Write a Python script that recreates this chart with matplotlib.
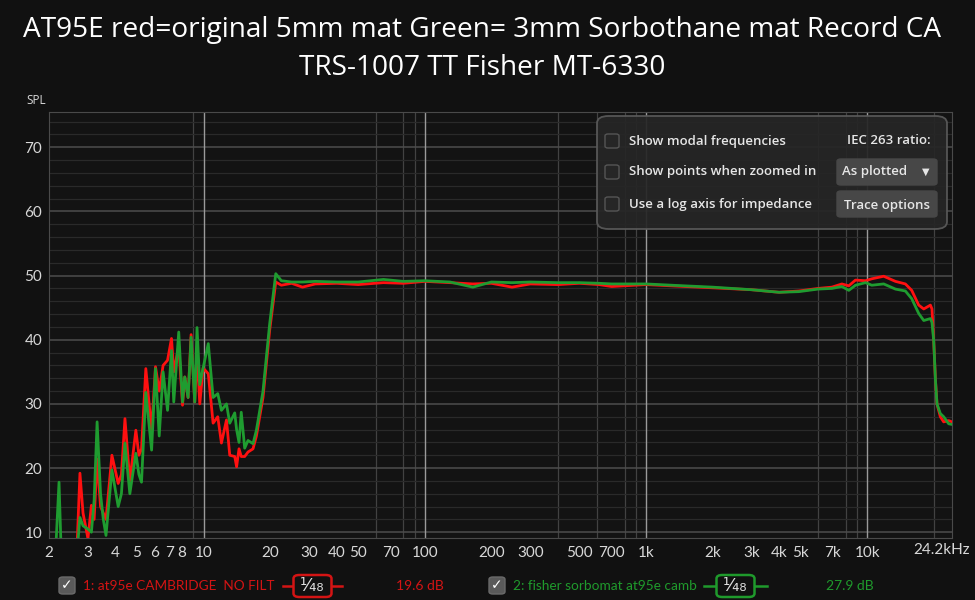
import matplotlib
matplotlib.use("Agg")
import matplotlib.pyplot as plt
import numpy as np
from matplotlib.patches import FancyBboxPatch

# frequency grid (Hz) and the two smoothed SPL traces (dB)
freq = [2.0, 2.15, 2.22, 2.27, 2.5, 2.68, 2.76, 2.85, 3.0, 3.11, 3.2, 3.30, 3.42, 3.52, 3.62,
        3.85, 4.11, 4.25, 4.41, 4.64, 4.94, 5.1, 5.24, 5.48, 5.82, 6.06, 6.30, 6.56, 6.87,
        7.16, 7.33, 7.72, 8.03, 8.22, 8.51, 8.78, 9.12, 9.34, 9.61, 9.95, 10.5, 11.04, 11.59,
        12.04, 12.69, 13.13, 13.83, 14.1, 14.46, 14.8, 15.34, 15.88, 16.73, 17.33, 18.56,
        19.9, 21.2, 22.46, 25, 28, 32, 40, 50, 65, 80, 100, 130, 165, 200, 248, 300, 400,
        500, 614, 700, 1000, 1500, 2000, 3000, 4000, 4913, 6000, 6930, 7690, 8264, 8860,
        9834, 10496, 11886, 13428, 14894, 15912, 17110, 18032, 19328, 19646, 20000, 20370,
        20700, 21430, 22190, 23380, 24200]
red_db = [5, 5, 6, 5, 5, 8, 19.2, 13, 9, 14.2, 12, 21.4, 14, 13, 12,
          22, 17.6, 19, 27.7, 18, 25.9, 22, 23, 35.5, 25.9, 35.8, 32, 36, 36.8,
          40.2, 35, 39, 29.8, 34.2, 31, 40.8, 30.3, 38, 30, 35.6, 34.7, 27, 28,
          23.9, 27.5, 22, 21.8, 20.2, 23, 21.8, 21.8, 22.5, 23, 25, 31,
          41.5, 49, 48.5, 48.8, 48.2, 48.7, 48.8, 48.6, 48.9, 48.8, 49.1, 48.9, 48.7, 48.8, 48.2, 48.7, 48.6,
          48.8, 48.6, 48.3, 48.6, 48.3, 48.1, 47.8, 47.4, 47.6, 48.0, 48.2, 48.7, 48.4, 49.3,
          49.2, 49.5, 49.9, 49.1, 48.7, 47.7, 45.4, 44.8, 45.4, 44.8, 39.9, 33.7,
          30, 28, 27.2, 27.4, 27.2]
green_db = [5, 8, 17.8, 7, 5, 7, 12.3, 11, 10.5, 10, 15, 27.2, 16, 12, 9.5,
            19.7, 14, 16, 23.9, 16, 22.3, 19, 17.8, 31.8, 22.8, 35.5, 25, 35, 29,
            38.3, 30.3, 41.2, 30.3, 34.2, 31, 40.4, 30.3, 41.9, 33, 35.6, 39.4, 31, 31.6,
            29, 30, 27, 28.6, 26, 24, 28.7, 23.1, 24.3, 23.8, 25.9, 32,
            42.5, 50.3, 49.2, 49.0, 49.0, 49.1, 49.0, 49.0, 49.4, 49.1, 49.2, 49.0, 48.2, 49.0, 48.9, 49.0, 48.9,
            48.9, 48.8, 48.7, 48.7, 48.4, 48.2, 47.8, 47.4, 47.5, 47.9, 48.0, 48.3, 47.7, 48.5,
            48.9, 48.5, 48.7, 47.9, 47.6, 46.4, 44.1, 43.0, 43.3, 42.7, 39.9, 33.7,
            30, 28.5, 28, 26.9, 26.8]

xtick_vals = [2, 3, 4, 5, 6, 7, 8, 10, 20, 30, 40, 50, 70, 100, 200, 300, 500, 700,
              1000, 2000, 3000, 4000, 5000, 7000, 10000]
xtick_labels = ["2", "3", "4", "5", "6", "7", "8", "10", "20", "30", "40", "50", "70", "100",
                "200", "300", "500", "700", "1k", "2k", "3k", "4k", "5k", "7k", "10k"]
ytick_vals = [10, 20, 30, 40, 50, 60, 70]

BG = "#111111"
TXT = "#d8d8d8"
RED = "#ff1010"
GREEN = "#1f9c30"
LEG_RED = "#d41414"
LEG_GREEN = "#1f9a2c"
W, H = 975, 600

plt.rcParams["font.family"] = ["Open Sans", "DejaVu Sans"]

fig = plt.figure(figsize=(9.75, 6.0), dpi=100, facecolor=BG)
ax = fig.add_axes([49 / W, 1 - 538 / H, (952 - 49) / W, (538 - 112) / H], facecolor="#131313")


def px(x, y):
    return x / W, 1 - y / H


ax.set_xscale("log")
ax.set_xlim(2, 24200)
ax.set_ylim(9.1, 75.5)

minor_x = [m * 10 ** e for e in range(0, 5) for m in range(1, 10) if 2 <= m * 10 ** e <= 24200]
ax.set_xticks(minor_x, minor=True)
ax.set_xticks(xtick_vals)
ax.set_xticklabels(xtick_labels, family=["Lato", "DejaVu Sans"])
ax.set_yticks(ytick_vals)
ax.set_yticklabels([str(v) for v in ytick_vals], family=["Lato", "DejaVu Sans"])
ax.set_yticks(np.arange(10, 76, 2), minor=True)
ax.grid(which="minor", axis="x", color="#424242", lw=0.9)
ax.grid(which="minor", axis="y", color="#2a2a2a", lw=0.9)
ax.grid(which="major", axis="y", color="#4d4d4d", lw=1.1)
for d in [10, 100, 1000, 10000]:
    ax.axvline(d, color="#9a9a9a", lw=1.0, zorder=0.8)
ax.set_axisbelow(True)
ax.tick_params(which="both", length=0, colors=TXT, labelsize=11)
ax.tick_params(axis="x", pad=6)
ax.tick_params(axis="y", pad=5)
for s in ax.spines.values():
    s.set_color("#4a4a4a")

ax.plot(freq, red_db, color=RED, lw=2.0, solid_joinstyle="round", zorder=3)
ax.plot(freq, green_db, color=GREEN, lw=2.0, solid_joinstyle="round", zorder=4)

fig.text(*px(970, 550), "24.2kHz", color=TXT, fontsize=11, ha="right", va="center",
         family=["Lato", "DejaVu Sans"])
fig.text(*px(26, 101), "SPL", color=TXT, fontsize=8.5, ha="left", va="center")

fig.text(*px(482, 30), "AT95E red=original 5mm mat Green= 3mm Sorbothane mat Record CA",
         color="white", fontsize=20.2, ha="center", va="center")
fig.text(*px(482, 68), "TRS-1007 TT Fisher MT-6330", color="white", fontsize=20.2,
         ha="center", va="center")

# options panel drawn over the plot
panel = FancyBboxPatch(px(597, 229), 350 / W, 113 / H, boxstyle="round,pad=0,rounding_size=0.012",
                       transform=fig.transFigure, facecolor="#262626", edgecolor="#5a5a5a",
                       lw=1.3, alpha=0.93, zorder=10)
fig.patches.append(panel)
rows = [("Show modal frequencies", 141), ("Show points when zoomed in", 172),
        ("Use a log axis for impedance", 204)]
for label, yy in rows:
    fig.patches.append(FancyBboxPatch(px(605, yy + 7), 14 / W, 14 / H,
                                      boxstyle="round,pad=0,rounding_size=0.003",
                                      transform=fig.transFigure, facecolor="#262626",
                                      edgecolor="#555555", lw=1, zorder=11))
    fig.text(*px(629, yy), label, color="#e6e6e6", fontsize=9.5, fontweight="semibold",
             ha="left", va="center", zorder=12)
fig.text(*px(931, 141), "IEC 263 ratio:", color="#e6e6e6", fontsize=9.5, fontweight="semibold",
         ha="right", va="center", zorder=12)
for yy in [172, 204]:
    fig.patches.append(FancyBboxPatch(px(837, yy + 13), 100 / W, 26 / H,
                                      boxstyle="round,pad=0,rounding_size=0.004",
                                      transform=fig.transFigure, facecolor="#474747",
                                      edgecolor="#474747", lw=1, zorder=11))
fig.text(*px(842, 172), "As plotted", color="#e6e6e6", fontsize=9.5, fontweight="semibold",
         ha="left", va="center", zorder=12)
fig.text(*px(926, 172), "\u25BC", color="#e6e6e6", fontsize=7, ha="center", va="center",
         family="DejaVu Sans", zorder=12)
fig.text(*px(887, 205), "Trace options", color="#e6e6e6", fontsize=9.5, fontweight="semibold",
         ha="center", va="center", zorder=12)

# legend strip along the bottom
legend = [(67, "1: at95e CAMBRIDGE  NO FILT", LEG_RED, 283, 342, "19.6 dB", 420),
          (497, "2: fisher sorbomat at95e camb", LEG_GREEN, 704, 767, "27.9 dB", 850)]
for cx, name, col, bx0, bx1, db_txt, dbx in legend:
    fig.patches.append(FancyBboxPatch(px(cx - 8, 594), 16 / W, 17 / H,
                                      boxstyle="round,pad=0,rounding_size=0.004",
                                      transform=fig.transFigure, facecolor="#5a5a5a",
                                      edgecolor="#6a6a6a", zorder=11))
    fig.text(*px(cx, 585.5), "\u2713", color="white", fontsize=10, ha="center", va="center",
             family="DejaVu Sans", fontweight="bold", zorder=12)
    fig.text(*px(cx + 16, 586), name, color=col, fontsize=9.8, ha="left", va="center",
             family=["Lato", "DejaVu Sans"])
    fig.add_artist(plt.Line2D([bx0 / W, bx1 / W], [1 - 586 / H] * 2, color=col, lw=1.8,
                              transform=fig.transFigure))
    mid = (bx0 + bx1) / 2
    fig.patches.append(FancyBboxPatch(px(mid - 19, 597), 38 / W, 22 / H,
                                      boxstyle="round,pad=0,rounding_size=0.006",
                                      transform=fig.transFigure, facecolor=BG,
                                      edgecolor=col, lw=1.8, zorder=11))
    fig.text(*px(mid, 586), "\u00B9\u2044\u2084\u2088", color="#e0e0e0", fontsize=13,
             ha="center", va="center", family="DejaVu Sans", zorder=12)
    fig.text(*px(dbx, 586), db_txt, color=col, fontsize=10, ha="center", va="center",
             family=["Lato", "DejaVu Sans"])

fig.savefig("out.png", dpi=100, facecolor=BG)
